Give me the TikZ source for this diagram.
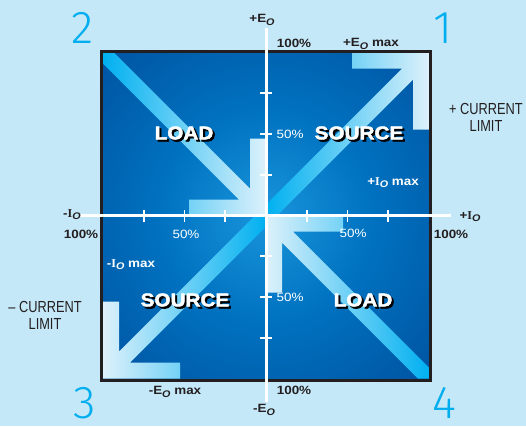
\documentclass[tikz,border=0pt]{standalone}
\usepackage{fontspec}
\usepackage{graphicx}
\setmainfont{Liberation Sans}
\newfontfamily\lblfont[FakeStretch=1.12]{Liberation Sans}
\newfontfamily\condfont[FakeStretch=0.8]{Liberation Sans}
\newfontfamily\blackfont[FakeStretch=1.12,FakeBold=2.4]{Liberation Sans Bold}
\newfontfamily\blackshfont[FakeStretch=1.12,FakeBold=3.6]{Liberation Sans Bold}
\newfontfamily\thinfont{Fira Sans Light}
\newfontfamily\Ifont{Liberation Serif}
\newcommand\sO{\raisebox{-0.35ex}{\scalebox{0.8}{\itshape O}}}
\newcommand\Io{{\Ifont\bfseries I}\sO}
\newcommand\shadowword[1]{\makebox[0pt][l]{\hspace{2pt}\raisebox{-2pt}{\blackshfont\color{black}#1}}{\blackfont\color{white}#1}}
\definecolor{bgl}{HTML}{C5E8F8}
\definecolor{ink}{HTML}{231F20}
\definecolor{numcyan}{HTML}{00AEEF}
\definecolor{cyanA}{HTML}{00B0F0}
\definecolor{paleA}{HTML}{DDF1FB}
\definecolor{bgcA}{HTML}{1A95DC}
\definecolor{bgcB}{HTML}{0072C0}
\definecolor{bgcC}{HTML}{003C8A}
\definecolor{bgcD}{HTML}{00073C}
\pgfdeclareradialshading{bgshade}{\pgfpoint{0bp}{0bp}}{color(0bp)=(bgcA); color(16bp)=(bgcB); color(50bp)=(bgcC); color(70.72bp)=(bgcD)}
\tikzset{
  num/.style={text=numcyan, font=\thinfont\fontsize{46}{46}\selectfont, inner sep=0pt, anchor=base},
  lbl/.style={text=ink, font=\lblfont\bfseries\fontsize{12}{12}\selectfont, inner sep=0pt},
  pct/.style={text=white, font=\lblfont\fontsize{12}{12}\selectfont, inner sep=0pt},
  wlbl/.style={text=white, font=\lblfont\bfseries\fontsize{12}{12}\selectfont, inner sep=0pt},
  cond/.style={text=ink, font=\condfont\fontsize{16}{17}\selectfont, align=center, inner sep=0pt},
  big/.style={font=\fontsize{18.5}{18.5}\selectfont, inner sep=0pt},
  axisline/.style={white, line width=3pt},
  tickline/.style={white, line width=1.8pt},
  frame/.style={draw=ink, line width=3pt},
}
\begin{document}
\begin{tikzpicture}[x=1pt,y=-1pt]
\useasboundingbox (0,0) rectangle (526,426);
\fill[bgl] (0,0) rectangle (526,426);
\begin{scope}[shift={(266,215.5)}, yscale=-1]
  % background square
  \shade[shading=bgshade] (-164.5,-164.5) rectangle (164.5,164.5);
  % quadrant 1 arrow (source, to top-right)
  \shade[left color=cyanA, right color=paleA]
    (0,0) -- (11,0) -- (147,136) -- (147,86) -- (163,86) -- (163,163)
    -- (86,163) -- (86,147) -- (136,147) -- (0,11) -- cycle;
  % quadrant 3 arrow (source, to bottom-left)
  \shade[left color=paleA, right color=cyanA]
    (0,0) -- (-11,0) -- (-147,-136) -- (-147,-86) -- (-163,-86) -- (-163,-163)
    -- (-86,-163) -- (-86,-147) -- (-136,-147) -- (0,-11) -- cycle;
  % quadrant 2 arrow (load, to centre)
  \shade[left color=cyanA, right color=paleA]
    (0,0) -- (-77,0) -- (-77,16) -- (-27,16) -- (-163,152) -- (-163,163)
    -- (-152,163) -- (-16,27) -- (-16,77) -- (0,77) -- cycle;
  % quadrant 4 arrow (load, to centre)
  \shade[left color=paleA, right color=cyanA]
    (0,0) -- (77,0) -- (77,-16) -- (27,-16) -- (163,-152) -- (163,-163)
    -- (152,-163) -- (16,-27) -- (16,-77) -- (0,-77) -- cycle;
  \draw[frame] (-164.5,-164.5) rectangle (164.5,164.5);
  % axes
  \coordinate (axL) at (-186,0);
  \coordinate (axR) at (185,0);
  \coordinate (axT) at (0,187.5);
  \coordinate (axB) at (0,-186.5);
  \draw[axisline] (axL) -- (axR);
  \draw[axisline] (axB) -- (axT);
  \foreach \d in {-122.25,-81.5,-40.75,40.75,81.5,122.25} {
    \draw[tickline] (\d,-6) -- (\d,6);
    \draw[tickline] (-6,\d) -- (6,\d);
  }
\end{scope}
% quadrant numbers
\node[num] (n2) at (83,43) {2};
\node[num] (n1) at (443,43) {1};
\node[num] (n3) at (85,418) {3};
\node[num] (n4) at (444,418) {4};
% axis labels
\node[lbl] (ep) at (262,20) {+E\sO};
\node[lbl] (em) at (264,410) {-E\sO};
\node[lbl] (im) at (72,215) {-\Io};
\node[lbl] (ip) at (470,217) {+\Io};
\node[lbl] (p100t) at (294,43) {100\%};
\node[lbl] (p100b) at (294,390) {100\%};
\node[lbl] (p100l) at (81,234) {100\%};
\node[lbl] (p100r) at (451,234) {100\%};
\node[lbl] (epmax) at (371,44) {+E\sO\ max};
\node[lbl] (emmax) at (175,392) {-E\sO\ max};
\node[wlbl] (ipmax) at (393,183) {+\Io\ max};
\node[wlbl] (immax) at (131,265) {-\Io\ max};
% percent labels inside
\node[pct] (p50t) at (290,134) {50\%};
\node[pct] (p50b) at (290,297) {50\%};
\node[pct] (p50l) at (186,234) {50\%};
\node[pct] (p50r) at (353,233) {50\%};
% current limit labels
\node[cond] (clp) at (486,117) {+ CURRENT\\LIMIT};
\node[cond] (clm) at (45,315) {– CURRENT\\LIMIT};
% quadrant words
\node[big] (load2) at (184,134) {\shadowword{LOAD}};
\node[big] (src1) at (359,134) {\shadowword{SOURCE}};
\node[big] (src3) at (185,301) {\shadowword{SOURCE}};
\node[big] (load4) at (363,301) {\shadowword{LOAD}};
\end{tikzpicture}
\end{document}
